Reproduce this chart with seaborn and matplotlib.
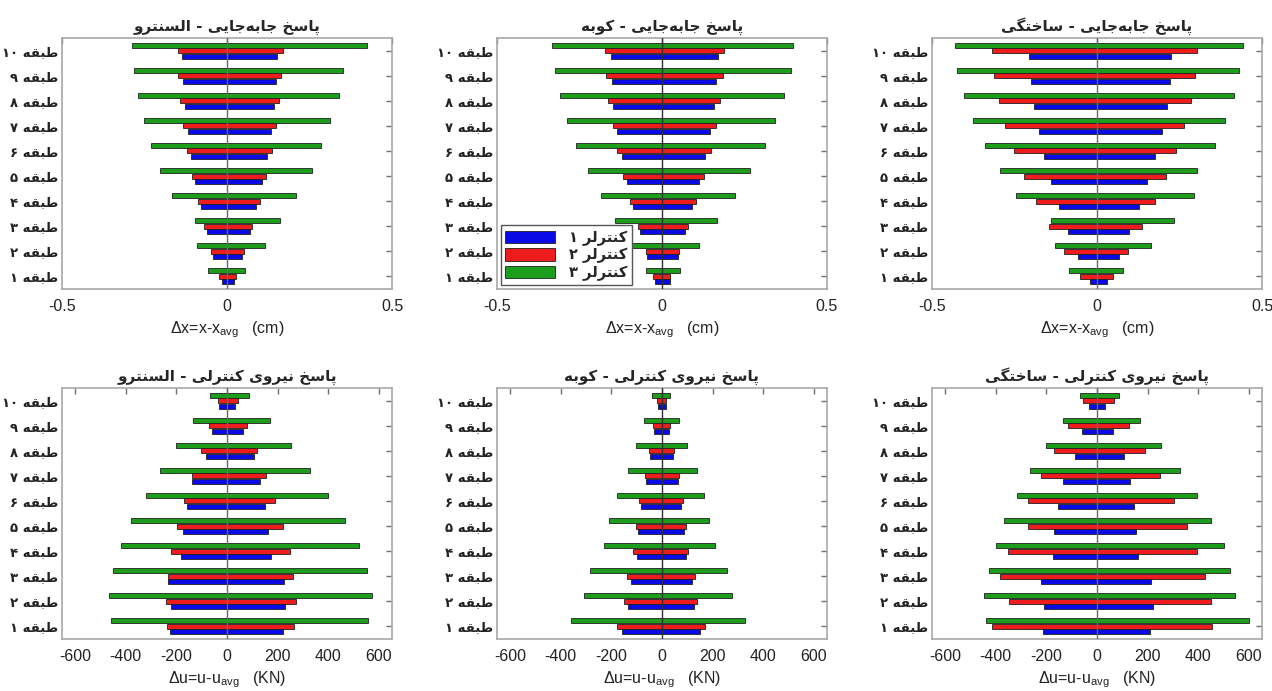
import re
import numpy as np
import pandas as pd
import matplotlib
matplotlib.use("Agg")
import matplotlib.pyplot as plt
from matplotlib.patches import Patch
import seaborn as sns

# ---------------------------------------------------------------- data
floors = list(range(1, 11))
controllers = ["کنترلر ۱", "کنترلر ۲", "کنترلر ۳"]
records = ["السنترو", "کوبه", "ساختگی"]

# displacement response (cm): min / max per floor (floor 1 .. 10)
disp_elcentro_c1_lo = [-0.014, -0.042, -0.061, -0.079, -0.096, -0.109, -0.119, -0.127, -0.133, -0.137]
disp_elcentro_c1_hi = [0.021, 0.046, 0.069, 0.089, 0.106, 0.121, 0.132, 0.142, 0.147, 0.150]
disp_elcentro_c2_lo = [-0.024, -0.047, -0.069, -0.087, -0.105, -0.121, -0.132, -0.142, -0.147, -0.150]
disp_elcentro_c2_hi = [0.027, 0.052, 0.077, 0.100, 0.118, 0.135, 0.148, 0.158, 0.165, 0.169]
disp_elcentro_c3_lo = [-0.058, -0.090, -0.096, -0.166, -0.202, -0.229, -0.253, -0.271, -0.281, -0.288]
disp_elcentro_c3_hi = [0.056, 0.116, 0.161, 0.209, 0.259, 0.284, 0.313, 0.338, 0.352, 0.423]

disp_kobe_c1_lo = [-0.022, -0.045, -0.067, -0.088, -0.106, -0.122, -0.135, -0.147, -0.153, -0.156]
disp_kobe_c1_hi = [0.023, 0.047, 0.071, 0.092, 0.113, 0.130, 0.144, 0.157, 0.163, 0.170]
disp_kobe_c2_lo = [-0.026, -0.050, -0.073, -0.097, -0.118, -0.136, -0.150, -0.163, -0.171, -0.174]
disp_kobe_c2_hi = [0.025, 0.052, 0.079, 0.104, 0.126, 0.147, 0.163, 0.176, 0.185, 0.189]
disp_kobe_c3_lo = [-0.047, -0.094, -0.142, -0.185, -0.224, -0.260, -0.288, -0.309, -0.324, -0.332]
disp_kobe_c3_hi = [0.054, 0.111, 0.166, 0.221, 0.267, 0.311, 0.342, 0.371, 0.390, 0.398]

disp_synth_c1_lo = [-0.020, -0.059, -0.089, -0.116, -0.139, -0.160, -0.176, -0.190, -0.199, -0.205]
disp_synth_c1_hi = [0.030, 0.067, 0.098, 0.128, 0.153, 0.176, 0.196, 0.212, 0.221, 0.225]
disp_synth_c2_lo = [-0.051, -0.101, -0.146, -0.185, -0.221, -0.252, -0.278, -0.298, -0.311, -0.319]
disp_synth_c2_hi = [0.047, 0.095, 0.137, 0.176, 0.210, 0.240, 0.265, 0.284, 0.297, 0.302]
disp_synth_c3_lo = [-0.084, -0.128, -0.139, -0.244, -0.294, -0.340, -0.376, -0.403, -0.423, -0.431]
disp_synth_c3_hi = [0.078, 0.164, 0.232, 0.293, 0.303, 0.359, 0.387, 0.414, 0.430, 0.441]

# control force response (kN): min / max per floor (floor 1 .. 10)
force_elcentro_c1_lo = [-224, -220, -234, -183, -174, -158, -137, -83, -58, -32]
force_elcentro_c1_hi = [220, 230, 224, 172, 162, 149, 132, 107, 62, 30]
force_elcentro_c2_lo = [-237, -243, -234, -220, -199, -168, -137, -104, -70, -34]
force_elcentro_c2_hi = [264, 271, 262, 247, 221, 188, 155, 117, 79, 42]
force_elcentro_c3_lo = [-457, -468, -449, -418, -378, -322, -264, -200, -134, -66]
force_elcentro_c3_hi = [557, 574, 553, 522, 467, 401, 329, 251, 168, 86]

force_kobe_c1_lo = [-159, -136, -123, -100, -93, -83, -62, -46, -31, -17]
force_kobe_c1_hi = [151, 127, 117, 93, 86, 75, 62, 42, 29, 14]
force_kobe_c2_lo = [-178, -151, -140, -113, -102, -89, -68, -51, -35, -20]
force_kobe_c2_hi = [168, 140, 130, 102, 93, 83, 68, 48, 31, 14]
force_kobe_c3_lo = [-358, -308, -283, -229, -208, -177, -134, -102, -72, -39]
force_kobe_c3_hi = [329, 278, 257, 208, 186, 164, 138, 98, 66, 33]

force_synth_c1_lo = [-215, -209, -223, -174, -168, -156, -136, -85, -59, -30]
force_synth_c1_hi = [210, 220, 214, 163, 155, 147, 130, 108, 63, 30]
force_synth_c2_lo = [-416, -349, -384, -351, -273, -273, -223, -170, -115, -56]
force_synth_c2_hi = [456, 449, 425, 395, 354, 303, 250, 190, 127, 67]
force_synth_c3_lo = [-439, -446, -426, -399, -366, -317, -264, -202, -136, -68]
force_synth_c3_hi = [602, 547, 525, 501, 452, 395, 327, 252, 169, 87]

disp_title = "پاسخ جابه\u200cجایی - "
force_title = "پاسخ نیروی کنترلی - "
disp_xlabel = r"$\Delta$x=x-x$_{\rm avg}$   (cm)"
force_xlabel = r"$\Delta$u=u-u$_{\rm avg}$   (KN)"
disp_ticks = [-0.5, 0, 0.5]
force_ticks = [-600, -400, -200, 0, 200, 400, 600]

# ------------------------------------------------ Persian text shaping
# (isolated, final, initial, medial); two-form letters only join to the right
FORMS = {
    "ا": ("\uFE8D", "\uFE8E"), "ب": ("\uFE8F", "\uFE90", "\uFE91", "\uFE92"),
    "پ": ("\uFB56", "\uFB57", "\uFB58", "\uFB59"), "ت": ("\uFE95", "\uFE96", "\uFE97", "\uFE98"),
    "ج": ("\uFE9D", "\uFE9E", "\uFE9F", "\uFEA0"), "خ": ("\uFEA5", "\uFEA6", "\uFEA7", "\uFEA8"),
    "ر": ("\uFEAD", "\uFEAE"), "س": ("\uFEB1", "\uFEB2", "\uFEB3", "\uFEB4"),
    "ط": ("\uFEC1", "\uFEC2", "\uFEC3", "\uFEC4"), "ق": ("\uFED5", "\uFED6", "\uFED7", "\uFED8"),
    "ک": ("\uFB8E", "\uFB8F", "\uFB90", "\uFB91"), "گ": ("\uFB92", "\uFB93", "\uFB94", "\uFB95"),
    "ل": ("\uFEDD", "\uFEDE", "\uFEDF", "\uFEE0"), "ن": ("\uFEE5", "\uFEE6", "\uFEE7", "\uFEE8"),
    "ه": ("\uFEE9", "\uFEEA", "\uFEEB", "\uFEEC"), "و": ("\uFEED", "\uFEEE"),
    "ی": ("\uFBFC", "\uFBFD", "\uFBFE", "\uFBFF"), "ي": ("\uFEF1", "\uFEF2", "\uFEF3", "\uFEF4"),
}


def persian(text):
    out = []
    n = len(text)
    for i, ch in enumerate(text):
        if ch == "\u200c":
            continue
        if ch not in FORMS:
            out.append(ch)
            continue
        prev = text[i - 1] if i > 0 else ""
        nxt = text[i + 1] if i + 1 < n else ""
        join_prev = prev in FORMS and len(FORMS[prev]) == 4
        join_next = len(FORMS[ch]) == 4 and nxt in FORMS
        f = FORMS[ch]
        if join_prev and join_next:
            out.append(f[3])
        elif join_prev:
            out.append(f[1])
        elif join_next:
            out.append(f[2])
        else:
            out.append(f[0])
    shaped = "".join(out)
    runs = re.findall(r"[0-9\u06F0-\u06F9]+|[^0-9\u06F0-\u06F9]+", shaped)
    return "".join(r if re.match(r"[0-9\u06F0-\u06F9]", r) else r[::-1]
                   for r in reversed(runs))


def fa_digits(k):
    return "".join(chr(0x06F0 + int(d)) for d in str(k))


# ---------------------------------------------------------------- style
sns.set_theme(style="white")
plt.rcParams["font.family"] = ["Liberation Sans", "DejaVu Sans"]
plt.rcParams["axes.unicode_minus"] = False
plt.rcParams["mathtext.fontset"] = "custom"
plt.rcParams["mathtext.rm"] = "Liberation Sans"
plt.rcParams["mathtext.it"] = "Liberation Sans"

palette = {"کنترلر ۱": "#0a0ae6", "کنترلر ۲": "#ee1c1c", "کنترلر ۳": "#1c9e1c"}
hue_order = ["کنترلر ۳", "کنترلر ۲", "کنترلر ۱"]
floor_labels = ["طبقه " + fa_digits(k) for k in floors]
order = floor_labels[::-1]

panels = [
    ("disp", "السنترو", [(disp_elcentro_c1_lo, disp_elcentro_c1_hi), (disp_elcentro_c2_lo, disp_elcentro_c2_hi), (disp_elcentro_c3_lo, disp_elcentro_c3_hi)]),
    ("disp", "کوبه", [(disp_kobe_c1_lo, disp_kobe_c1_hi), (disp_kobe_c2_lo, disp_kobe_c2_hi), (disp_kobe_c3_lo, disp_kobe_c3_hi)]),
    ("disp", "ساختگی", [(disp_synth_c1_lo, disp_synth_c1_hi), (disp_synth_c2_lo, disp_synth_c2_hi), (disp_synth_c3_lo, disp_synth_c3_hi)]),
    ("force", "السنترو", [(force_elcentro_c1_lo, force_elcentro_c1_hi), (force_elcentro_c2_lo, force_elcentro_c2_hi), (force_elcentro_c3_lo, force_elcentro_c3_hi)]),
    ("force", "کوبه", [(force_kobe_c1_lo, force_kobe_c1_hi), (force_kobe_c2_lo, force_kobe_c2_hi), (force_kobe_c3_lo, force_kobe_c3_hi)]),
    ("force", "ساختگی", [(force_synth_c1_lo, force_synth_c1_hi), (force_synth_c2_lo, force_synth_c2_hi), (force_synth_c3_lo, force_synth_c3_hi)]),
]

W, H = 1272, 691
fig = plt.figure(figsize=(W / 100, H / 100), dpi=100)
col_x = [62, 497, 932]
row_y = [(38, 289), (388, 639)]
frame_grey = "#a8a8a8"

for idx, (kind, rec, series) in enumerate(panels):
    r, c = divmod(idx, 3)
    x0 = col_x[c]
    y_top, y_bot = row_y[r]
    ax = fig.add_axes([x0 / W, 1 - y_bot / H, 330 / W, (y_bot - y_top) / H])

    rows = []
    for ctrl, (lo, hi) in zip(controllers, series):
        for fl, a, b in zip(floor_labels, lo, hi):
            rows.append({"floor": fl, "ctrl": ctrl, "lo": a, "hi": b})
    df = pd.DataFrame(rows)

    for col in ("lo", "hi"):
        sns.barplot(data=df, x=col, y="floor", hue="ctrl", order=order,
                    hue_order=hue_order, palette=palette, orient="h",
                    width=0.66, gap=0.1, errorbar=None, legend=False,
                    edgecolor="#202020", linewidth=0.6, saturation=1, ax=ax)

    zero_col = "#303030" if rec == "کوبه" else "#6a6a6a"
    ax.axvline(0, color=zero_col, lw=1.0, zorder=5)

    if kind == "disp":
        ax.set_xlim(-0.5, 0.5)
        ax.set_xticks(disp_ticks)
        ax.set_xticklabels(["-0.5", "0", "0.5"])
        ax.set_xlabel(disp_xlabel, fontsize=11.5, color="#222222", labelpad=4)
    else:
        ax.set_xlim(-652, 652)
        ax.set_xticks(force_ticks)
        ax.set_xticklabels([str(t) for t in force_ticks])
        ax.set_xlabel(force_xlabel, fontsize=11.5, color="#222222", labelpad=4)

    ax.set_ylim(9.5, -0.5)
    ax.set_ylabel("")
    ax.set_yticks(range(len(order)))
    ax.set_yticklabels([persian(t) for t in order], fontsize=9.5,
                       fontweight="bold", family=["DejaVu Sans"])
    ax.set_title(persian((disp_title if kind == "disp" else force_title) + rec),
                 fontsize=11, fontweight="bold", family=["DejaVu Sans"], pad=5)

    for s in ax.spines.values():
        s.set_visible(True)
        s.set_color(frame_grey)
        s.set_linewidth(1.2)
    ax.tick_params(axis="both", direction="in", length=4, width=1,
                   color="#707070", top=True, right=True,
                   labelsize=11.5, labelcolor="#222222")
    ax.tick_params(axis="y", labelsize=9.5, pad=3)
    ax.tick_params(axis="x", pad=7)
    ax.grid(False)

    if idx == 1:
        handles = [Patch(facecolor=palette[k], edgecolor="#202020", linewidth=0.6)
                   for k in controllers]
        leg = ax.legend(handles, [persian(k) for k in controllers],
                        loc="lower left", bbox_to_anchor=(0.0, 0.0),
                        borderaxespad=0.25, frameon=True, fancybox=False,
                        framealpha=1.0, handlelength=3.4, handleheight=0.95,
                        labelspacing=0.12, borderpad=0.3, handletextpad=1.0,
                        prop={"family": ["DejaVu Sans"], "weight": "bold", "size": 10.5})
        leg.get_frame().set_edgecolor("#555555")
        leg.get_frame().set_facecolor("white")
        leg.get_frame().set_linewidth(1.0)
        leg.set_zorder(10)

fig.savefig("out.png", dpi=100, facecolor="white")
